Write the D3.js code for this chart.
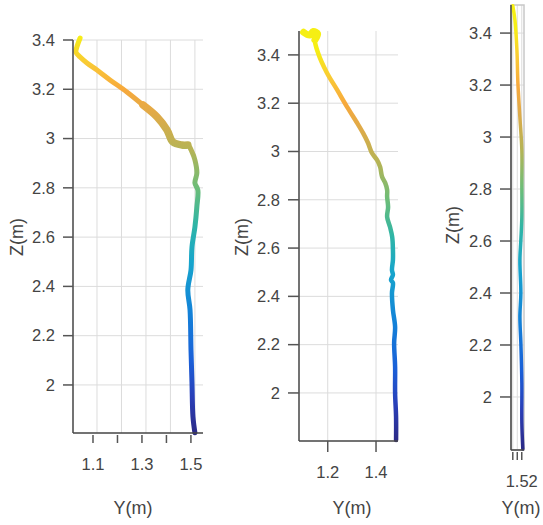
<!DOCTYPE html>
<html>
<head>
<meta charset="utf-8">
<script src="https://cdn.jsdelivr.net/npm/d3@7"></script>
<style>
  body { margin: 0; background: #fff; }
  svg text { font-family: "Liberation Sans", Arial, sans-serif; fill: #444; }
</style>
</head>
<body>
<div id="chart"></div>
<script>
// trajectory samples: Y (horizontal) and Z (height), metres
var p1Y = [1.031, 1.018, 1.014, 1.031, 1.059, 1.100, 1.153, 1.222, 1.288, 1.345, 1.386, 1.410, 1.447, 1.471, 1.488, 1.500, 1.508, 1.500, 1.512, 1.508, 1.500, 1.488, 1.484, 1.471, 1.480, 1.484, 1.488, 1.492, 1.500];
var p1Z = [3.408, 3.372, 3.351, 3.331, 3.307, 3.278, 3.238, 3.189, 3.136, 3.088, 3.035, 2.986, 2.974, 2.974, 2.946, 2.913, 2.860, 2.820, 2.791, 2.723, 2.641, 2.560, 2.467, 2.386, 2.305, 2.142, 2.009, 1.871, 1.806];

var p2Y = [1.100, 1.125, 1.140, 1.158, 1.147, 1.160, 1.197, 1.239, 1.280, 1.322, 1.346, 1.367, 1.383, 1.404, 1.417, 1.425, 1.438, 1.446, 1.446, 1.450, 1.446, 1.458, 1.467, 1.470, 1.470, 1.466, 1.470, 1.462, 1.470, 1.466, 1.470, 1.479, 1.475, 1.479, 1.479, 1.483, 1.483];
var p2Z = [3.494, 3.482, 3.497, 3.488, 3.462, 3.408, 3.325, 3.255, 3.185, 3.118, 3.077, 3.035, 2.994, 2.965, 2.936, 2.895, 2.870, 2.841, 2.812, 2.770, 2.729, 2.687, 2.646, 2.592, 2.551, 2.509, 2.489, 2.468, 2.456, 2.414, 2.344, 2.273, 2.207, 2.108, 2.000, 1.900, 1.805];

var p3Y = [1.5100, 1.5124, 1.5146, 1.5157, 1.5179, 1.5201, 1.5201, 1.5201, 1.5190, 1.5179, 1.5190, 1.5179, 1.5190, 1.5201, 1.5201, 1.5212];
var p3Z = [3.505, 3.450, 3.335, 3.208, 3.077, 2.950, 2.823, 2.692, 2.604, 2.527, 2.400, 2.308, 2.208, 2.054, 1.900, 1.800];

var zTicks = [2, 2.2, 2.4, 2.6, 2.8, 3, 3.2, 3.4];
var p1XTicks = [1.1, 1.2, 1.3, 1.4, 1.5];
var p1XLabels = ["1.1", "", "1.3", "", "1.5"];
var p2XTicks = [1.2, 1.4];
var p2XLabels = ["1.2", "1.4"];
var p3XTicks = [1.51, 1.515, 1.52];
var p3XLabels = ["", "", "1.52"];

// colour map by height (parula-like)
var colorZ = [1.8, 1.95, 2.1, 2.3, 2.5, 2.65, 2.8, 2.95, 3.1, 3.2, 3.3, 3.42];
var colorHex = ["#2c2a86", "#2a3fb8", "#1a5fd8", "#1383d8", "#17a5cc", "#2fb5a6", "#6cbd78", "#b4b456", "#e0aa48", "#f7a93c", "#f9c836", "#f6ef14"];

var width = 543, height = 525;

var svg = d3.select("#chart").append("svg")
    .attr("width", width)
    .attr("height", height);

var defs = svg.append("defs");

var panels = [
  { id: "p1", ys: p1Y, zs: p1Z, left: 73, right: 203, top: 40, bottom: 433,
    xDomain: [1.002, 1.533], zDomain: [1.805, 3.4],
    xTicks: p1XTicks, xLabels: p1XLabels, tickShift: -4, tickTop: 435, tickBottom: 443, labelY: 470,
    yLabelX: 55, yTickX: 63, titleX: 133, zTitleX: 23, zTitleY: 237, stroke: 5, box: false },
  { id: "p2", ys: p2Y, zs: p2Z, left: 299, right: 398, top: 31, bottom: 441,
    xDomain: [1.081, 1.491], zDomain: [1.801, 3.499],
    xTicks: p2XTicks, xLabels: p2XLabels, tickShift: 0, tickTop: 441, tickBottom: 452, labelY: 478,
    yLabelX: 280, yTickX: 288, titleX: 352, zTitleX: 248, zTitleY: 237, stroke: 4.5, box: false },
  { id: "p3", ys: p3Y, zs: p3Z, left: 511, right: 524, top: 5, bottom: 450,
    xDomain: [1.508, 1.5225], zDomain: [1.796, 3.508],
    xTicks: p3XTicks, xLabels: p3XLabels, tickShift: 0, tickTop: 452, tickBottom: 460, labelY: 487,
    yLabelX: 492, yTickX: 500, titleX: 521, zTitleX: 459, zTitleY: 225, stroke: 3.5, box: true }
];

panels.forEach(drawPanel);

function drawPanel(p) {
  var x = d3.scaleLinear().domain(p.xDomain).range([p.left, p.right]);
  var y = d3.scaleLinear().domain(p.zDomain).range([p.bottom, p.top]);
  var g = svg.append("g").attr("id", p.id);

  // gradient along height
  var grad = defs.append("linearGradient")
      .attr("id", "grad-" + p.id)
      .attr("gradientUnits", "userSpaceOnUse")
      .attr("x1", 0).attr("x2", 0)
      .attr("y1", y(colorZ[0]))
      .attr("y2", y(colorZ[colorZ.length - 1]));
  grad.selectAll("stop")
      .data(colorZ)
    .enter().append("stop")
      .attr("offset", d => (d - colorZ[0]) / (colorZ[colorZ.length - 1] - colorZ[0]))
      .attr("stop-color", (d, i) => colorHex[i]);

  // grid
  g.append("g").selectAll("line")
      .data(zTicks)
    .enter().append("line")
      .attr("x1", p.left).attr("x2", p.right)
      .attr("y1", d => y(d)).attr("y2", d => y(d))
      .attr("stroke", "#dcdcdc").attr("stroke-width", 1);

  g.append("g").selectAll("line")
      .data(p.xTicks)
    .enter().append("line")
      .attr("x1", d => x(d)).attr("x2", d => x(d))
      .attr("y1", p.top).attr("y2", p.bottom)
      .attr("stroke", "#dcdcdc").attr("stroke-width", 1);

  if (p.box) {
    g.append("rect")
        .attr("x", p.left).attr("y", p.top)
        .attr("width", p.right - p.left).attr("height", p.bottom - p.top)
        .attr("fill", "none").attr("stroke", "#c8c8c8").attr("stroke-width", 1.5);
  }

  // trajectory
  var pts = p.ys.map((v, i) => [v, p.zs[i]]);
  var line = d3.line()
      .x(d => x(d[0]))
      .y(d => y(d[1]))
      .curve(d3.curveCatmullRom.alpha(0.5));

  g.append("path")
      .attr("d", line(pts))
      .attr("fill", "none")
      .attr("stroke", "url(#grad-" + p.id + ")")
      .attr("stroke-width", p.stroke)
      .attr("stroke-linecap", "round")
      .attr("stroke-linejoin", "round");

  if (p.id == "p1") {
    // the band gets wider around the step near z = 3
    var thick = pts.filter(d => d[1] > 2.95 && d[1] < 3.15);
    g.append("path")
        .attr("d", line(thick))
        .attr("fill", "none")
        .attr("stroke", "url(#grad-" + p.id + ")")
        .attr("stroke-width", 7.5)
        .attr("stroke-linecap", "round");
  }
  if (p.id == "p2") {
    // yellow splash at the top
    var top = pts.filter(d => d[1] > 3.45);
    g.append("path")
        .attr("d", line(top))
        .attr("fill", "none")
        .attr("stroke", "url(#grad-" + p.id + ")")
        .attr("stroke-width", 7)
        .attr("stroke-linecap", "round");
  }

  // axis lines
  g.append("line")
      .attr("x1", p.left).attr("x2", p.left)
      .attr("y1", p.top).attr("y2", p.bottom)
      .attr("stroke", "#444").attr("stroke-width", 1.5);
  g.append("line")
      .attr("x1", p.left).attr("x2", p.right)
      .attr("y1", p.bottom).attr("y2", p.bottom)
      .attr("stroke", "#444").attr("stroke-width", 1.5);

  // z ticks
  var zt = g.append("g").selectAll("g")
      .data(zTicks)
    .enter().append("g");
  zt.append("line")
      .attr("x1", p.yTickX).attr("x2", p.left)
      .attr("y1", d => y(d)).attr("y2", d => y(d))
      .attr("stroke", "#555").attr("stroke-width", 1.5);
  zt.append("text")
      .attr("x", p.yLabelX)
      .attr("y", d => y(d))
      .attr("dy", "0.35em")
      .attr("text-anchor", "end")
      .attr("font-size", "16.5px")
      .text(d => d);

  // y ticks
  var xt = g.append("g").selectAll("g")
      .data(p.xTicks)
    .enter().append("g");
  xt.append("line")
      .attr("x1", d => x(d) + p.tickShift).attr("x2", d => x(d) + p.tickShift)
      .attr("y1", p.tickTop).attr("y2", p.tickBottom)
      .attr("stroke", "#555").attr("stroke-width", 1.5);
  xt.append("text")
      .attr("x", d => x(d) + p.tickShift)
      .attr("y", p.labelY)
      .attr("text-anchor", "middle")
      .attr("font-size", "16.5px")
      .text((d, i) => p.xLabels[i]);

  // titles
  g.append("text")
      .attr("x", p.titleX)
      .attr("y", 514)
      .attr("text-anchor", "middle")
      .attr("font-size", "18px")
      .text("Y(m)");
  g.append("text")
      .attr("transform", "translate(" + p.zTitleX + "," + p.zTitleY + ") rotate(-90)")
      .attr("text-anchor", "middle")
      .attr("font-size", "18px")
      .text("Z(m)");
}
</script>
</body>
</html>
